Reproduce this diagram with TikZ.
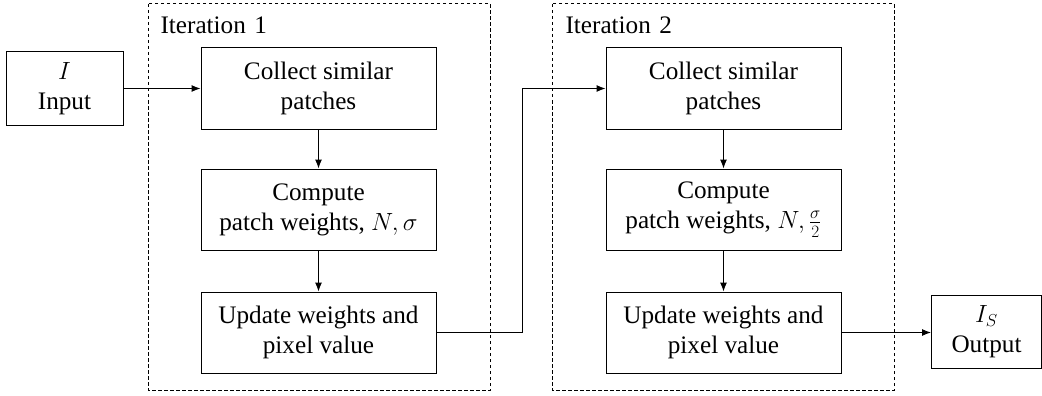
\documentclass[tikz,border=0pt]{standalone}
\usepackage{fontspec}
\setmainfont{Liberation Serif}
\usetikzlibrary{arrows.meta,calc}
\begin{document}
\begin{tikzpicture}[x=1pt,y=-1pt,
  txt/.style={font=\fontsize{25.2}{30}\selectfont},
  stepbox/.style={draw,line width=1pt,minimum width=235pt,minimum height=81pt,
    inner sep=0pt,align=center,txt},
  iobox/.style={draw,line width=1pt,minimum height=73pt,inner sep=0pt,align=center,txt},
  group/.style={draw,line width=1pt,dash pattern=on 3.5pt off 2.5pt},
  conn/.style={line width=1pt,-{Latex[length=9pt,width=7pt]}}]
\useasboundingbox (0,0) rectangle (1042,396);
% iteration frames
\draw[group] (148,4) rectangle (490,390);
\draw[group] (552,4) rectangle (894,390);
\node[txt,anchor=base west] (lab1) at (157,34) {Iteration\,\,1};
\node[txt,anchor=base west] (lab2) at (562,34) {Iteration\,\,2};
% input and output
\node[iobox,minimum width=117pt] (in) at (64.5,88.5) {$I$\\Input};
\node[iobox,minimum width=110pt] (out) at (986.5,331.5) {$I_S$\\Output};
% iteration 1
\node[stepbox] (a1) at (318.5,88.5) {Collect similar\\patches};
\node[stepbox] (b1) at (318.5,209.5) {Compute\\patch weights, $N,\sigma$};
\node[stepbox] (c1) at (318.5,332.5) {Update weights and\\pixel value};
% iteration 2
\node[stepbox] (a2) at (723.5,88.5) {Collect similar\\patches};
\node[stepbox] (b2) at (723.5,209.5) {Compute\\patch weights, $N,\frac{\sigma}{2}$};
\node[stepbox] (c2) at (723.5,332.5) {Update weights and\\pixel value};
% connectors
\coordinate (turn) at (522,332.5);
\draw[conn] (in) -- (a1);
\draw[conn] (a1) -- (b1);
\draw[conn] (b1) -- (c1);
\draw[conn] (c1.east) -- (turn) |- (a2.west);
\draw[conn] (a2) -- (b2);
\draw[conn] (b2) -- (c2);
\draw[conn] (c2.east) -- (c2.east -| out.west);
\end{tikzpicture}
\end{document}
